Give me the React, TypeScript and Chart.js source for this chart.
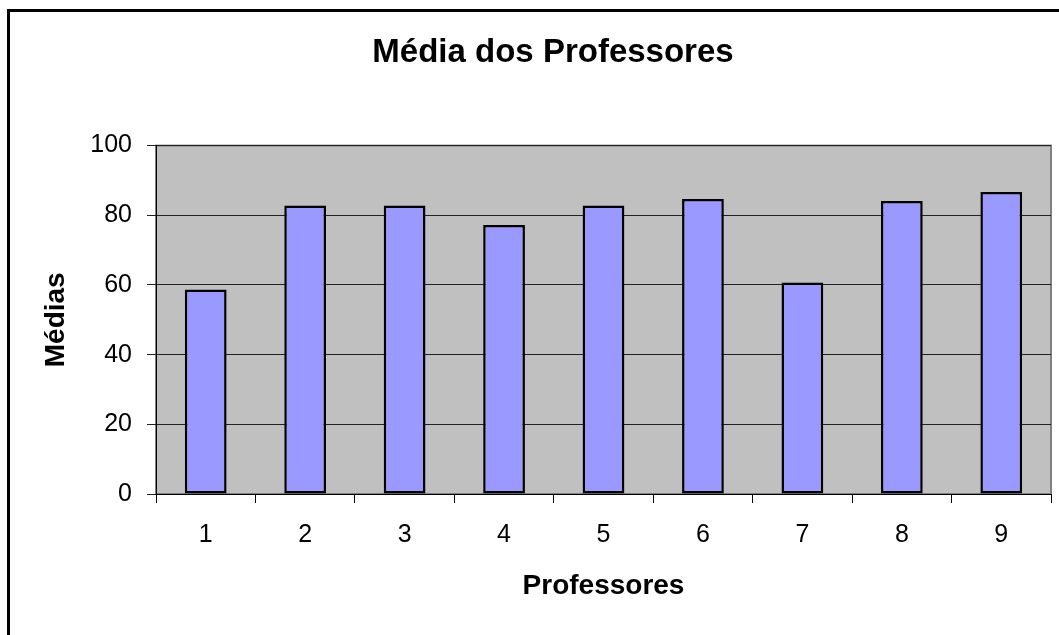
import React, { useEffect, useRef } from "react";
import { Chart, registerables } from "chart.js";

Chart.register(...registerables);

const categories = ["1", "2", "3", "4", "5", "6", "7", "8", "9"];
const medias = [58.7, 82.8, 82.8, 77.2, 82.8, 84.7, 60.7, 84.1, 86.7];
const chartTitle = "Média dos Professores";
const xTitle = "Professores";
const yTitle = "Médias";
const yMin = 0;
const yMax = 100;
const yStep = 20;

const FONT = "'Liberation Sans', Arial, sans-serif";

const plotBg = {
  id: "plotBg",
  beforeDraw(chart: any) {
    const { ctx, chartArea } = chart;
    if (!chartArea) return;
    ctx.save();
    ctx.fillStyle = "#C0C0C0";
    ctx.fillRect(chartArea.left, chartArea.top, chartArea.right - chartArea.left, chartArea.bottom - chartArea.top);
    ctx.strokeStyle = "#808080";
    ctx.lineWidth = 2;
    ctx.strokeRect(chartArea.left, chartArea.top, chartArea.right - chartArea.left, chartArea.bottom - chartArea.top);
    ctx.restore();
  },
};

export default function App() {
  const ref = useRef<HTMLCanvasElement | null>(null);

  useEffect(() => {
    if (!ref.current) return;
    const chart = new Chart(ref.current, {
      type: "bar",
      data: {
        labels: categories,
        datasets: [
          {
            data: medias,
            backgroundColor: "#9999FF",
            borderColor: "#000000",
            borderWidth: 2.5,
            borderSkipped: false,
            barPercentage: 0.42,
            categoryPercentage: 1,
          },
        ],
      },
      options: {
        responsive: false,
        animation: false,
        devicePixelRatio: 1,
        layout: { padding: { left: 0, right: 0, top: 0, bottom: 78 } },
        plugins: {
          legend: { display: false },
          tooltip: { enabled: false },
          title: {
            display: true,
            text: chartTitle,
            color: "#000",
            font: { family: FONT, size: 33, weight: "bold" },
            padding: { top: 21, bottom: 73 },
          },
        },
        scales: {
          x: {
            offset: true,
            grid: {
              offset: true,
              drawOnChartArea: false,
              drawTicks: true,
              tickLength: 9,
              color: "#000",
            },
            border: { display: true, color: "#000", width: 1 },
            ticks: {
              color: "#000",
              padding: 17,
              font: { family: FONT, size: 25 },
            },
            title: {
              display: true,
              text: xTitle,
              color: "#000",
              font: { family: FONT, size: 28, weight: "bold" },
              padding: { top: 0, bottom: 11 },
            },
            afterFit: (s: any) => {
              s.height = 120;
            },
          },
          y: {
            min: yMin,
            max: yMax,
            ticks: {
              stepSize: yStep,
              color: "#000",
              padding: 15,
              font: { family: FONT, size: 25 },
            },
            grid: {
              color: "#222",
              tickLength: 9,
              drawTicks: true,
            },
            border: { display: true, color: "#000", width: 1 },
            title: {
              display: true,
              text: yTitle,
              color: "#000",
              font: { family: FONT, size: 28, weight: "bold" },
              padding: { top: 29, bottom: 0 },
            },
            afterFit: (s: any) => {
              s.width = 146;
            },
          },
          y2: {
            type: "linear",
            position: "right",
            display: true,
            grid: { display: false },
            ticks: { display: false },
            border: { display: false },
            afterFit: (s: any) => {
              s.width = 45;
            },
          },
        },
      },
      plugins: [plotBg],
    } as any);
    return () => chart.destroy();
  }, []);

  return (
    <div style={{ position: "fixed", inset: 0, overflow: "hidden", background: "#fff" }}>
      <div
        style={{
          position: "absolute",
          left: 7,
          top: 9,
          width: 1200,
          height: 800,
          border: "3px solid #000",
          background: "#fff",
        }}
      >
        <canvas ref={ref} width={1086} height={680} style={{ display: "block" }} />
      </div>
    </div>
  );
}
